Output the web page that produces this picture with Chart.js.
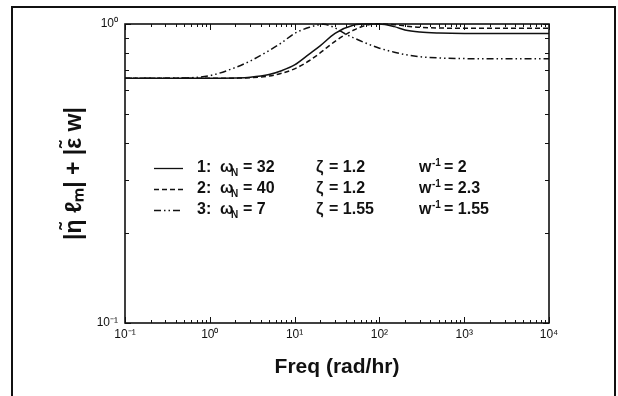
<!DOCTYPE html>
<html>
<head>
<meta charset="utf-8">
<script src="https://cdn.jsdelivr.net/npm/chart.js@4"></script>
<style>
  html, body { margin: 0; padding: 0; background: #fff; overflow: hidden; }
  .wrap { position: relative; width: 618px; height: 396px; }
  .frame {
    position: absolute; left: 11px; top: 6px; width: 601px; height: 420px;
    border-top: 2px solid #111; border-left: 2px solid #111; border-right: 2px solid #111;
    pointer-events: none;
  }
  canvas { position: absolute; left: 0; top: 0; }
</style>
</head>
<body>
<div class="wrap">
  <canvas id="chart" width="618" height="396"></canvas>
  <div class="frame"></div>
</div>
<script>
// frequency (rad/hr) and magnitude
const freq1 = [0.1, 0.3, 1, 2, 3, 5, 7, 10, 15, 20, 30, 50, 70, 100, 150, 200, 300, 500, 1000, 3000, 10000];
const mag1 = [0.658, 0.658, 0.658, 0.66, 0.664, 0.678, 0.698, 0.73, 0.795, 0.845, 0.93, 0.992, 1.0, 1.0, 0.98, 0.955, 0.94, 0.933, 0.93, 0.93, 0.93];

const freq2 = [0.1, 0.3, 1, 2, 3, 5, 7, 10, 15, 20, 30, 50, 70, 100, 150, 200, 300, 500, 1000, 3000, 10000];
const mag2 = [0.658, 0.658, 0.658, 0.659, 0.661, 0.67, 0.684, 0.708, 0.755, 0.8, 0.875, 0.955, 0.99, 1.0, 0.995, 0.985, 0.975, 0.97, 0.967, 0.967, 0.967];

const freq3 = [0.1, 0.5, 1, 2, 3, 5, 7, 10, 15, 22, 30, 40, 50, 70, 100, 150, 200, 300, 500, 1000, 10000];
const mag3 = [0.658, 0.66, 0.672, 0.715, 0.752, 0.815, 0.865, 0.93, 0.975, 0.998, 0.97, 0.925, 0.898, 0.862, 0.83, 0.805, 0.79, 0.777, 0.77, 0.766, 0.765];

// legend entries
const caseIds = ["1:", "2:", "3:"];
const omegaN = ["32", "40", "7"];
const zeta = ["1.2", "1.2", "1.55"];
const wInv = ["2", "2.3", "1.55"];

const xDecades = [0.1, 1, 10, 100, 1000, 10000];
const yDecades = [0.1, 1];

const FONT = "'Liberation Sans', Arial, sans-serif";
const sup = { "-": "\u207B", "0": "\u2070", "1": "\u00B9", "2": "\u00B2", "3": "\u00B3", "4": "\u2074" };
const powLabel = (v) => {
  const e = String(Math.round(Math.log10(v)));
  return "10" + e.split("").map((c) => sup[c]).join("");
};

const toPts = (xs, ys) => xs.map((x, i) => ({ x: x, y: ys[i] }));

// inward ticks on all four sides + plot box
const innerTicks = {
  id: "innerTicks",
  afterDatasetsDraw(chart) {
    const { ctx, chartArea: a, scales } = chart;
    const xs = scales.x, ys = scales.y;
    ctx.save();
    ctx.strokeStyle = "#111";
    ctx.lineWidth = 1;
    ctx.beginPath();
    for (let e = -1; e <= 4; e++) {
      for (let m = 1; m <= 9; m++) {
        const v = m * Math.pow(10, e);
        if (v > xs.max * 1.0001) break;
        const px = Math.round(xs.getPixelForValue(v)) + 0.5;
        const len = m === 1 ? 6 : 3;
        ctx.moveTo(px, a.bottom); ctx.lineTo(px, a.bottom - len);
        ctx.moveTo(px, a.top); ctx.lineTo(px, a.top + len);
      }
    }
    for (let e = -1; e <= 0; e++) {
      for (let m = 1; m <= 9; m++) {
        const v = m * Math.pow(10, e);
        if (v > ys.max * 1.0001) break;
        const py = Math.round(ys.getPixelForValue(v)) + 0.5;
        const len = m === 1 ? 6 : 4;
        ctx.moveTo(a.left, py); ctx.lineTo(a.left + len, py);
        ctx.moveTo(a.right, py); ctx.lineTo(a.right - len, py);
      }
    }
    ctx.stroke();
    ctx.lineWidth = 1.6;
    ctx.strokeRect(a.left, a.top, a.right - a.left, a.bottom - a.top);
    ctx.restore();
  }
};

// three-column legend inside the plot
const tableLegend = {
  id: "tableLegend",
  afterDatasetsDraw(chart) {
    const { ctx } = chart;
    const rows = [168, 189, 210];
    ctx.save();
    ctx.fillStyle = "#111";
    ctx.textBaseline = "middle";
    ctx.textAlign = "left";
    chart.data.datasets.forEach((ds, i) => {
      const y = rows[i];
      ctx.strokeStyle = "#111";
      ctx.lineWidth = 1.3;
      ctx.setLineDash(ds.borderDash || []);
      ctx.beginPath();
      ctx.moveTo(154, y + 0.5); ctx.lineTo(183, y + 0.5);
      ctx.stroke();
      ctx.setLineDash([]);

      ctx.font = "bold 16px " + FONT;
      ctx.fillText(caseIds[i], 197, y);
      ctx.fillText("\u03C9", 220, y);
      ctx.fillText("= " + omegaN[i], 243, y);
      ctx.fillText("\u03B6", 316, y);
      ctx.fillText("= " + zeta[i], 329, y);
      ctx.fillText("w", 419, y);
      ctx.fillText("= " + wInv[i], 444, y);
      ctx.font = "bold 10px " + FONT;
      ctx.fillText("N", 231, y + 5);
      ctx.fillText("-1", 432, y - 5);
    });
    ctx.restore();
  }
};

new Chart(document.getElementById("chart"), {
  type: "line",
  data: {
    datasets: [
      {
        label: "1",
        data: toPts(freq1, mag1),
        borderColor: "#111",
        borderWidth: 1.5,
        pointRadius: 0,
        cubicInterpolationMode: "monotone",
      },
      {
        label: "2",
        data: toPts(freq2, mag2),
        borderColor: "#111",
        borderWidth: 1.5,
        borderDash: [5, 3],
        pointRadius: 0,
        cubicInterpolationMode: "monotone",
      },
      {
        label: "3",
        data: toPts(freq3, mag3),
        borderColor: "#111",
        borderWidth: 1.5,
        borderDash: [7, 3, 1.5, 3, 1.5, 3],
        pointRadius: 0,
        cubicInterpolationMode: "monotone",
      },
    ],
  },
  options: {
    responsive: false,
    animation: false,
    devicePixelRatio: 1,
    clip: false,
    layout: { padding: { left: 0, right: 69, top: 24, bottom: 0 } },
    plugins: { legend: { display: false }, tooltip: { enabled: false } },
    scales: {
      x: {
        type: "logarithmic",
        min: 0.1,
        max: 10000,
        afterBuildTicks: (s) => { s.ticks = xDecades.map((v) => ({ value: v })); },
        afterFit: (s) => { s.height = 73; },
        grid: { drawOnChartArea: false, drawTicks: false },
        border: { display: false },
        ticks: {
          autoSkip: false,
          maxRotation: 0,
          padding: 4,
          color: "#111",
          font: { family: FONT, size: 12 },
          callback: (v) => powLabel(v),
        },
        title: {
          display: true,
          text: "Freq (rad/hr)",
          color: "#111",
          font: { family: FONT, size: 21, weight: "bold" },
          padding: { top: 0, bottom: 16 },
        },
      },
      y: {
        type: "logarithmic",
        min: 0.1,
        max: 1,
        afterBuildTicks: (s) => { s.ticks = yDecades.map((v) => ({ value: v })); },
        afterFit: (s) => { s.width = 125; },
        grid: { drawOnChartArea: false, drawTicks: false },
        border: { display: false },
        ticks: {
          autoSkip: false,
          padding: 7,
          color: "#111",
          font: { family: FONT, size: 12 },
          callback: (v) => powLabel(v),
        },
        title: {
          display: true,
          text: "|\u03B7\u0303 \u2113\u2098| + |\u03B5\u0303 w|",
          color: "#111",
          font: { family: FONT, size: 23, weight: "bold" },
          padding: { top: 61, bottom: 0 },
        },
      },
    },
  },
  plugins: [innerTicks, tableLegend],
});
</script>
</body>
</html>
